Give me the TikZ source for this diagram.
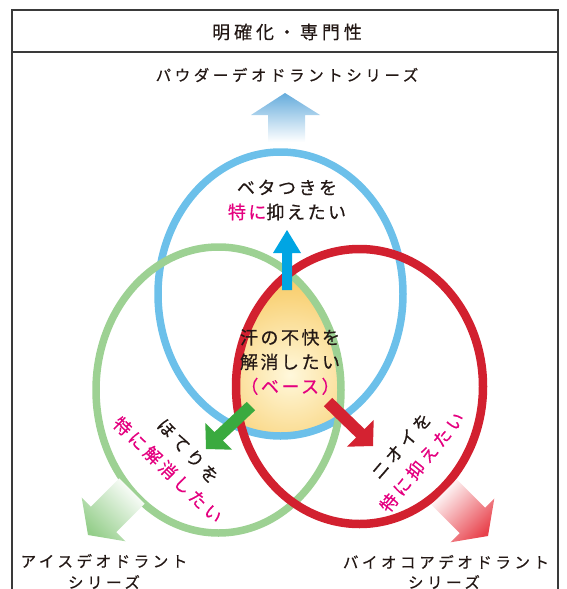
\documentclass[tikz,border=0pt]{standalone}
\usepackage{fontspec}
\newfontfamily\jp[FakeBold=0.5]{Noto Sans CJK JP}
\definecolor{framec}{HTML}{3A3A3A}
\definecolor{txt}{HTML}{231815}
\definecolor{mag}{HTML}{E4007F}
\definecolor{blueE}{HTML}{6CC0EA}
\definecolor{greenE}{HTML}{9DD193}
\definecolor{redE}{HTML}{D2202F}
\definecolor{topArr}{HTML}{66ACDC}
\definecolor{leftArr}{HTML}{94CE8A}
\definecolor{rightArr}{HTML}{E8414B}
\definecolor{smallG}{HTML}{3AAA3F}
\definecolor{smallB}{HTML}{00A5E3}
\definecolor{smallR}{HTML}{D42231}
\definecolor{yelIn}{HTML}{FFF8DC}
\definecolor{yelOut}{HTML}{F5BA38}
\tikzset{
  framel/.style={draw=framec,line width=1.3pt},
  titletext/.style={font=\jp\fontsize{18}{20}\selectfont\addfontfeature{LetterSpace=22},text=txt,inner sep=0pt},
  serieslabel/.style={font=\jp\fontsize{15.5}{18}\selectfont\addfontfeature{LetterSpace=23},text=txt,inner sep=0pt},
  centertext/.style={font=\jp\fontsize{18}{24.5}\selectfont\addfontfeature{LetterSpace=14},text=txt,align=center,inner sep=0pt},
  rottext/.style={font=\jp\fontsize{17.5}{20}\selectfont\addfontfeature{LetterSpace=20},inner sep=0pt},
  ringB/.style={draw=blueE,line width=7.5pt},
  ringG/.style={draw=greenE,line width=7.5pt},
  ringR/.style={draw=redE,line width=8.5pt},
}
\begin{document}
\begin{tikzpicture}[x=1pt,y=-1pt]
\useasboundingbox (0,0) rectangle (566,589);
% frame
\draw[framel] (12,589) -- (12,10) -- (558,10) -- (558,589);
\draw[framel] (12,52) -- (558,52);
\node[titletext] (title) at (287,32) {明確化・専門性};
\node[serieslabel] (powder) at (287,75) {パウダーデオドラントシリーズ};
% top big arrow
\shade[top color=topArr,middle color=topArr!75!white,bottom color=white]
  (268,142) -- (268,115) -- (251,115) -- (285,93) -- (320,115) -- (305,115) -- (305,142) -- cycle;
% yellow core
\begin{scope}
  \clip (218.5,390) ellipse [x radius=122.5pt, y radius=143pt];
  \clip (359.5,386.5) ellipse [x radius=123.5pt, y radius=137.5pt];
  \clip (280.5,294) ellipse [x radius=122.5pt, y radius=142pt];
  \shade[inner color=yelIn,outer color=yelOut] (290,375) circle (135pt);
\end{scope}
% rings
\draw[ringB] (280.5,294) ellipse [x radius=122.5pt, y radius=142pt];
\draw[ringG] (218.5,390) ellipse [x radius=122.5pt, y radius=143pt];
\draw[ringR] (359.5,386.5) ellipse [x radius=123.5pt, y radius=137.5pt];
% small arrows
\fill[smallB] (282,290) -- (282,253) -- (273,253) -- (287,230) -- (301,253) -- (292,253) -- (292,290) -- cycle;
\fill[smallG] (255.2,410.2) -- (222.9,440.5) -- (232.1,449.7) -- (206,449) -- (205.3,422.9) -- (214.5,432.1) -- (246.8,401.8) -- cycle;
\fill[smallR] (332.2,397.8) -- (364.5,429.1) -- (373.7,419.9) -- (373,446) -- (346.9,446.7) -- (356.1,437.5) -- (323.8,406.2) -- cycle;
% big bottom arrows
\shade[top color=white,middle color=leftArr!85!white,bottom color=leftArr,shading angle=-45]
  (144.6,503.8) -- (116.3,532.1) -- (125.5,541.3) -- (88,535) -- (81.7,497.5) -- (90.9,506.7) -- (119.2,478.4) -- cycle;
\shade[top color=white,middle color=rightArr!85!white,bottom color=rightArr,shading angle=45]
  (456.8,479.4) -- (485.1,507.7) -- (494.3,498.5) -- (488,536) -- (450.5,542.3) -- (459.7,533.1) -- (431.4,504.8) -- cycle;
% texts
\node[centertext] (beta) at (287,200) {ベタつきを\\\textcolor{mag}{特に}抑えたい};
\node[centertext] (ase) at (290,362) {汗の不快を\\解消したい\\\textcolor{mag}{（ベース）}};
\node[rottext,text=txt,rotate=-47] (hoteri) at (188,451) {ほてりを};
\node[rottext,text=mag,rotate=-44] (hoteri2) at (168,470) {特に解消したい};
\node[rottext,text=txt,rotate=49] (nioi) at (401,446) {ニオイを};
\node[rottext,text=mag,rotate=51] (nioi2) at (422,462) {特に抑えたい};
\node[serieslabel] (ice1) at (104,561) {アイスデオドラント};
\node[serieslabel] (ice2) at (104,582) {シリーズ};
\node[serieslabel] (bio1) at (446,562) {バイオコアデオドラント};
\node[serieslabel] (bio2) at (444,582) {シリーズ};
\end{tikzpicture}
\end{document}
